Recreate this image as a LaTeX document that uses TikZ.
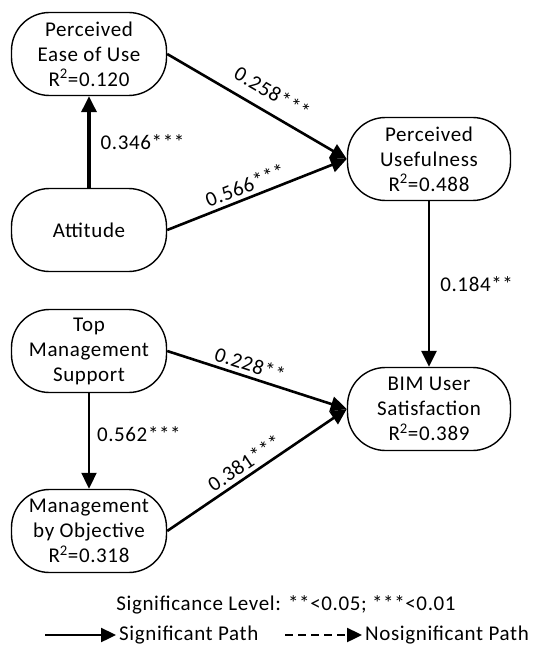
\documentclass[tikz,border=0pt]{standalone}
\usepackage{fontspec}
\setmainfont{Carlito}[LetterSpace=3]
\usetikzlibrary{arrows.meta}
\begin{document}
\begin{tikzpicture}[x=1pt,y=-1pt,
  construct/.style={draw,line width=1.4pt,rounded corners=38pt,minimum width=155pt,
    minimum height=83pt,align=center,inner sep=0pt,
    font=\fontsize{21}{25}\selectfont},
  path/.style={line width=2.6pt,-{Triangle[length=16pt,width=15pt]}},
  coef/.style={font=\fontsize{21}{22}\selectfont,inner sep=1pt},
  legend/.style={font=\fontsize{21}{22}\selectfont,inner sep=0pt}]
\useasboundingbox (0,0) rectangle (554,647);

% constructs
\node[construct] (peou) at (89,54) {Perceived\\Ease of Use\\R\textsuperscript{2}=0.120};
\node[construct] (att) at (89,230) {Attitude};
\node[construct,minimum width=163pt] (pu) at (429,159) {Perceived\\Usefulness\\R\textsuperscript{2}=0.488};
\node[construct] (tms) at (89,351) {Top\\Management\\Support};
\node[construct,minimum width=163pt] (bim) at (429,409) {BIM User\\Satisfaction\\R\textsuperscript{2}=0.389};
\node[construct] (mbo) at (89,531) {Management\\by Objective\\R\textsuperscript{2}=0.318};

% structural paths
\draw[path,line width=3.4pt] (att) -- (peou)
  node[coef,pos=0.5,right=9pt] {0.346***};
\draw[path] (peou.east) -- (pu.west)
  node[coef,pos=0.53,sloped,above=10pt] {0.258***};
\draw[path] (att.east) -- (pu.west)
  node[coef,pos=0.46,sloped,above=3pt] {0.566***};
\draw[path] (pu) -- (bim)
  node[coef,pos=0.5,right=9pt] {0.184**};
\draw[path] (tms.east) -- (bim.west)
  node[coef,pos=0.44,sloped,above=3pt] {0.228**};
\draw[path,line width=2pt] (tms) -- (mbo)
  node[coef,pos=0.43,right=6pt] {0.562***};
\draw[path] (mbo.east) -- (bim.west)
  node[coef,pos=0.47,sloped,above=3pt] {0.381***};

% legend
\node[legend] (sig) at (286,605) {Significance Level: **<0.05; ***<0.01};
\coordinate (s0) at (45,635);
\coordinate (s1) at (116,635);
\draw[line width=2.4pt,-{Triangle[length=15pt,width=14pt]}] (s0) -- (s1);
\node[legend,anchor=west] (sp) at (119,635) {Significant Path};
\coordinate (d0) at (285,635);
\coordinate (d1) at (362,635);
\draw[line width=2.4pt,dash pattern=on 8pt off 5pt,-{Triangle[length=15pt,width=14pt]}] (d0) -- (d1);
\node[legend,anchor=west] (np) at (365,635) {Nosignificant Path};
\end{tikzpicture}
\end{document}
